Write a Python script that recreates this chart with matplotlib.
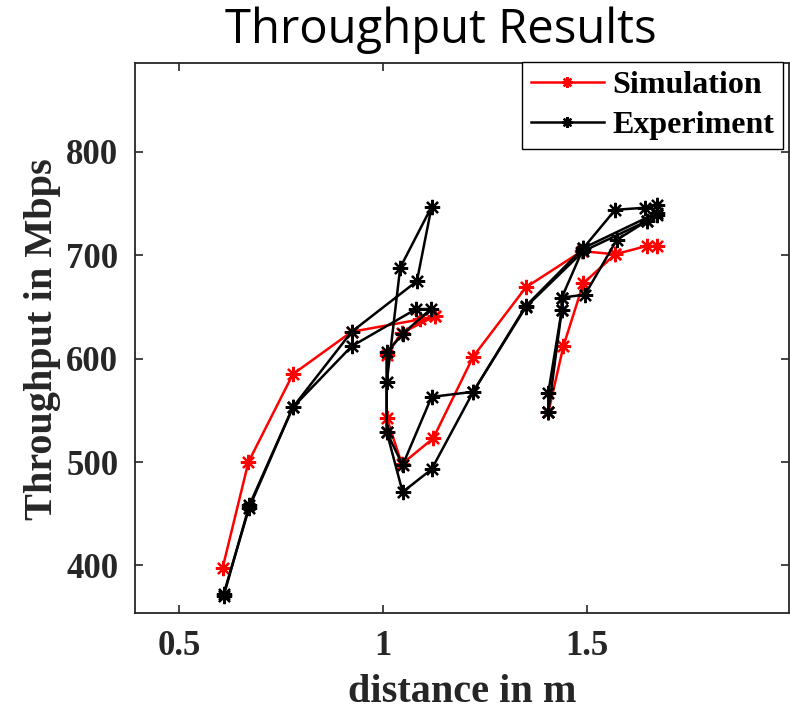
import matplotlib
matplotlib.use("Agg")
import matplotlib.pyplot as plt
from matplotlib.lines import Line2D

# ---- data ----
sim_a_x = [0.607, 0.670, 0.779, 0.923, 1.091, 1.127]
sim_a_y = [398, 500, 585, 626, 638, 641]
sim_b_x = [1.127, 1.046, 1.009, 1.009, 1.046, 1.123, 1.221, 1.350, 1.487, 1.569, 1.646, 1.671]
sim_b_y = [641, 625, 604, 543, 498, 523, 602, 669, 704, 701, 709, 709]
sim_c_x = [1.405, 1.442, 1.491, 1.569]
sim_c_y = [548, 612, 673, 701]

exp_a_x = [0.609, 0.672, 0.779, 0.923, 1.083, 1.119, 1.042, 1.009, 1.009, 1.048, 1.119, 1.221, 1.350, 1.491, 1.569, 1.642, 1.671]
exp_a_y = [372, 456, 553, 626, 675, 747, 688, 577, 529, 497, 563, 568, 651, 707, 744, 746, 749]
exp_b_x = [0.609, 0.672, 0.779, 0.923, 1.081, 1.117, 1.048, 1.009, 1.009, 1.048, 1.119, 1.221, 1.350, 1.491, 1.646, 1.671]
exp_b_y = [370, 458, 553, 612, 648, 648, 624, 606, 529, 471, 493, 568, 650, 704, 733, 739]
exp_c_x = [1.405, 1.405, 1.438, 1.438, 1.491, 1.671]
exp_c_y = [548, 567, 647, 659, 707, 741]
exp_d_x = [1.405, 1.438, 1.438, 1.495, 1.573, 1.646]
exp_d_y = [548, 647, 659, 662, 715, 733]

x_ticks = [0.5, 1, 1.5]
x_tick_labels = ["0.5", "1", "1.5"]
y_ticks = [400, 500, 600, 700, 800]

# ---- figure ----
W, H = 790, 720
fig = plt.figure(figsize=(W / 100, H / 100), dpi=100)
ax = fig.add_axes([135 / W, 1 - 613 / H, (789 - 135) / W, (613 - 63) / H])

serif = ["Liberation Serif", "DejaVu Serif"]
star = (8, 2, 0)
common = dict(marker=star, markersize=11, markeredgewidth=1.6, linewidth=1.8)

for xs, ys in [(sim_a_x, sim_a_y), (sim_b_x, sim_b_y), (sim_c_x, sim_c_y)]:
    ax.plot(xs, ys, color="#ff0000", **common)
for xs, ys in [(exp_a_x, exp_a_y), (exp_b_x, exp_b_y), (exp_c_x, exp_c_y), (exp_d_x, exp_d_y)]:
    ax.plot(xs, ys, color="black", **common)

ax.set_xlim(0.392, 1.995)
ax.set_ylim(354, 886)
ax.set_xticks(x_ticks)
ax.set_xticklabels(x_tick_labels)
ax.set_yticks(y_ticks)

ax.tick_params(direction="in", length=6, width=1.2, color="#262626",
               top=True, right=True, pad=12)
for lab in ax.get_xticklabels() + ax.get_yticklabels():
    lab.set_fontfamily(serif)
    lab.set_fontweight("bold")
    lab.set_fontsize(25)
    lab.set_color("#262626")
for sp in ax.spines.values():
    sp.set_color("#262626")
    sp.set_linewidth(1.3)

ax.set_xlabel("distance in m", fontfamily=serif, fontweight="bold", fontsize=29, color="#262626")
ax.set_ylabel("Throughput in Mbps", fontfamily=serif, fontweight="bold", fontsize=29, color="#262626")
ax.xaxis.set_label_coords((462 - 135) / 654, (613 - 674) / 550)
ax.yaxis.set_label_coords((61 - 135) / 654, (613 - 339) / 550)

handles = [Line2D([], [], color="#ff0000", **common),
           Line2D([], [], color="black", **common)]
leg = fig.legend(handles, ["Simulation", "Experiment"], loc="upper right",
                 bbox_to_anchor=(783 / W, 1 - 62 / H), borderaxespad=0,
                 prop=dict(family=serif, weight="bold", size=23),
                 frameon=True, fancybox=False, framealpha=1,
                 handlelength=2.3, handletextpad=0.25, borderpad=0.28,
                 labelspacing=0.33, markerscale=0.7)
leg.get_frame().set_edgecolor("black")
leg.get_frame().set_linewidth(1.0)

fig.text(441 / W, 1 - 30 / H, "Throughput Results", ha="center", va="center",
         fontsize=34, family=["Open Sans", "DejaVu Sans"])

fig.savefig("out.png", dpi=100)
